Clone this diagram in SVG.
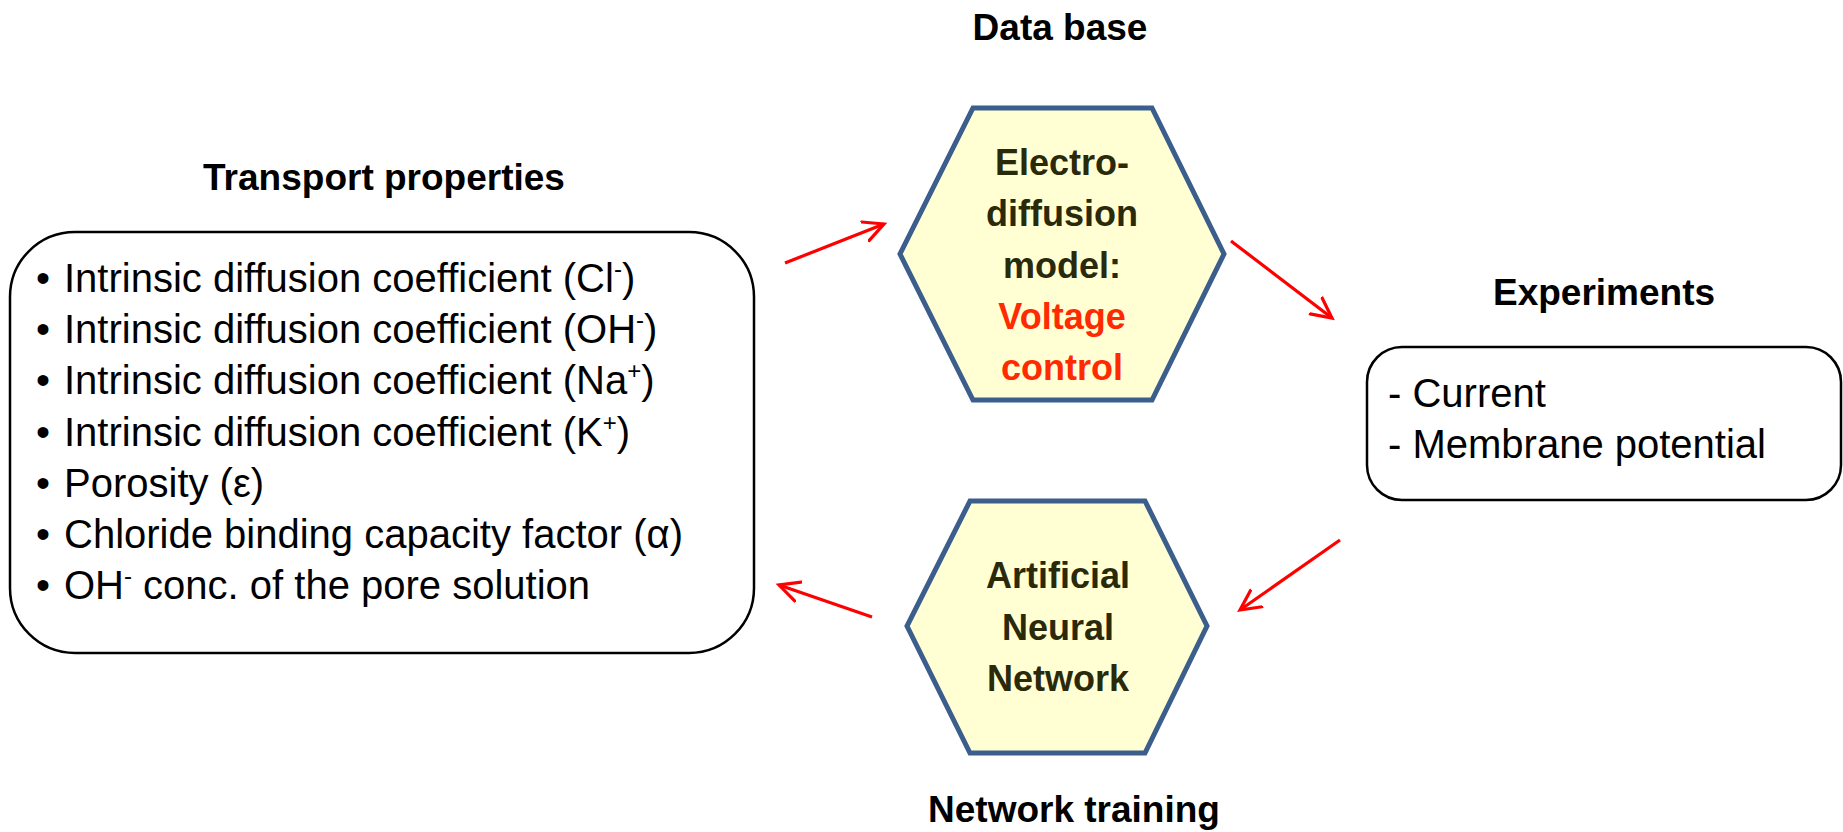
<svg xmlns="http://www.w3.org/2000/svg" width="1843" height="832" viewBox="0 0 1843 832">
<style>
.title{font-family:"Liberation Sans",Arial,sans-serif;font-weight:bold;font-size:37px;fill:#000;text-anchor:middle}
.body{font-family:"Liberation Sans",Arial,sans-serif;font-size:40px;fill:#000}
.hex{fill:#FFFFD3;stroke:#3B5E8C;stroke-width:5;stroke-linejoin:miter}
.hext{font-family:"Liberation Sans",Arial,sans-serif;font-weight:bold;font-size:36px;fill:#2A2A0A;text-anchor:middle}
.red{fill:#FF2A00}
.box{fill:#fff;stroke:#000;stroke-width:2.5}
.arrow{stroke:#FF0000;stroke-width:3.2;fill:none;marker-end:url(#ah)}
</style>
<defs>
<marker id="ah" markerUnits="userSpaceOnUse" markerWidth="30" markerHeight="30" refX="21" refY="11" orient="auto" viewBox="0 0 30 22">
<path d="M1,1 L21,11 L1,21" fill="none" stroke="#FF0000" stroke-width="3.2" stroke-linecap="round" stroke-linejoin="miter"/>
</marker>
</defs>
<rect width="1843" height="832" fill="#fff"/>

<g id="title-transport"><text class="title" x="384" y="190">Transport properties</text></g>
<g id="title-database"><text class="title" x="1060" y="40">Data base</text></g>
<g id="title-experiments"><text class="title" x="1604" y="305">Experiments</text></g>
<g id="title-training"><text class="title" x="1074" y="822">Network training</text></g>

<g id="transport-box">
<rect class="box" x="10" y="232" width="744" height="421" rx="65" ry="65"/>
<text class="body" x="36" y="292">•</text><text class="body" x="64" y="292">Intrinsic diffusion coefficient (Cl<tspan dy="-15" font-size="24">-</tspan><tspan dy="15">)</tspan></text>
<text class="body" x="36" y="343">•</text><text class="body" x="64" y="343">Intrinsic diffusion coefficient (OH<tspan dy="-15" font-size="24">-</tspan><tspan dy="15">)</tspan></text>
<text class="body" x="36" y="394">•</text><text class="body" x="64" y="394">Intrinsic diffusion coefficient (Na<tspan dy="-15" font-size="24">+</tspan><tspan dy="15">)</tspan></text>
<text class="body" x="36" y="446">•</text><text class="body" x="64" y="446">Intrinsic diffusion coefficient (K<tspan dy="-15" font-size="24">+</tspan><tspan dy="15">)</tspan></text>
<text class="body" x="36" y="497">•</text><text class="body" x="64" y="497">Porosity (ε)</text>
<text class="body" x="36" y="548">•</text><text class="body" x="64" y="548">Chloride binding capacity factor (α)</text>
<text class="body" x="36" y="599">•</text><text class="body" x="64" y="599">OH<tspan dy="-15" font-size="24">-</tspan><tspan dy="15"> conc. of the pore solution</tspan></text>
</g>

<g id="electro-diffusion">
<polygon class="hex" points="973,108 1152,108 1224,254 1152,400 973,400 900,254"/>
<text class="hext" x="1062" y="175">Electro-</text>
<text class="hext" x="1062" y="226">diffusion</text>
<text class="hext" x="1062" y="278">model:</text>
<text class="hext red" x="1062" y="329">Voltage</text>
<text class="hext red" x="1062" y="380">control</text>
</g>

<g id="experiments-box">
<rect class="box" x="1367" y="347" width="474" height="153" rx="35" ry="35"/>
<text class="body" x="1388" y="407">- Current</text>
<text class="body" x="1388" y="458">- Membrane potential</text>
</g>

<g id="ann">
<polygon class="hex" points="970,501 1145,501 1207,626 1145,753 970,753 907,626"/>
<text class="hext" x="1058" y="588">Artificial</text>
<text class="hext" x="1058" y="640">Neural</text>
<text class="hext" x="1058" y="691">Network</text>
</g>

<g id="connectors">
<line class="arrow" x1="785" y1="263" x2="884" y2="224"/>
<line class="arrow" x1="1231" y1="241" x2="1332" y2="318"/>
<line class="arrow" x1="1340" y1="540" x2="1240" y2="610"/>
<line class="arrow" x1="872" y1="617" x2="779" y2="585"/>
</g>
</svg>
